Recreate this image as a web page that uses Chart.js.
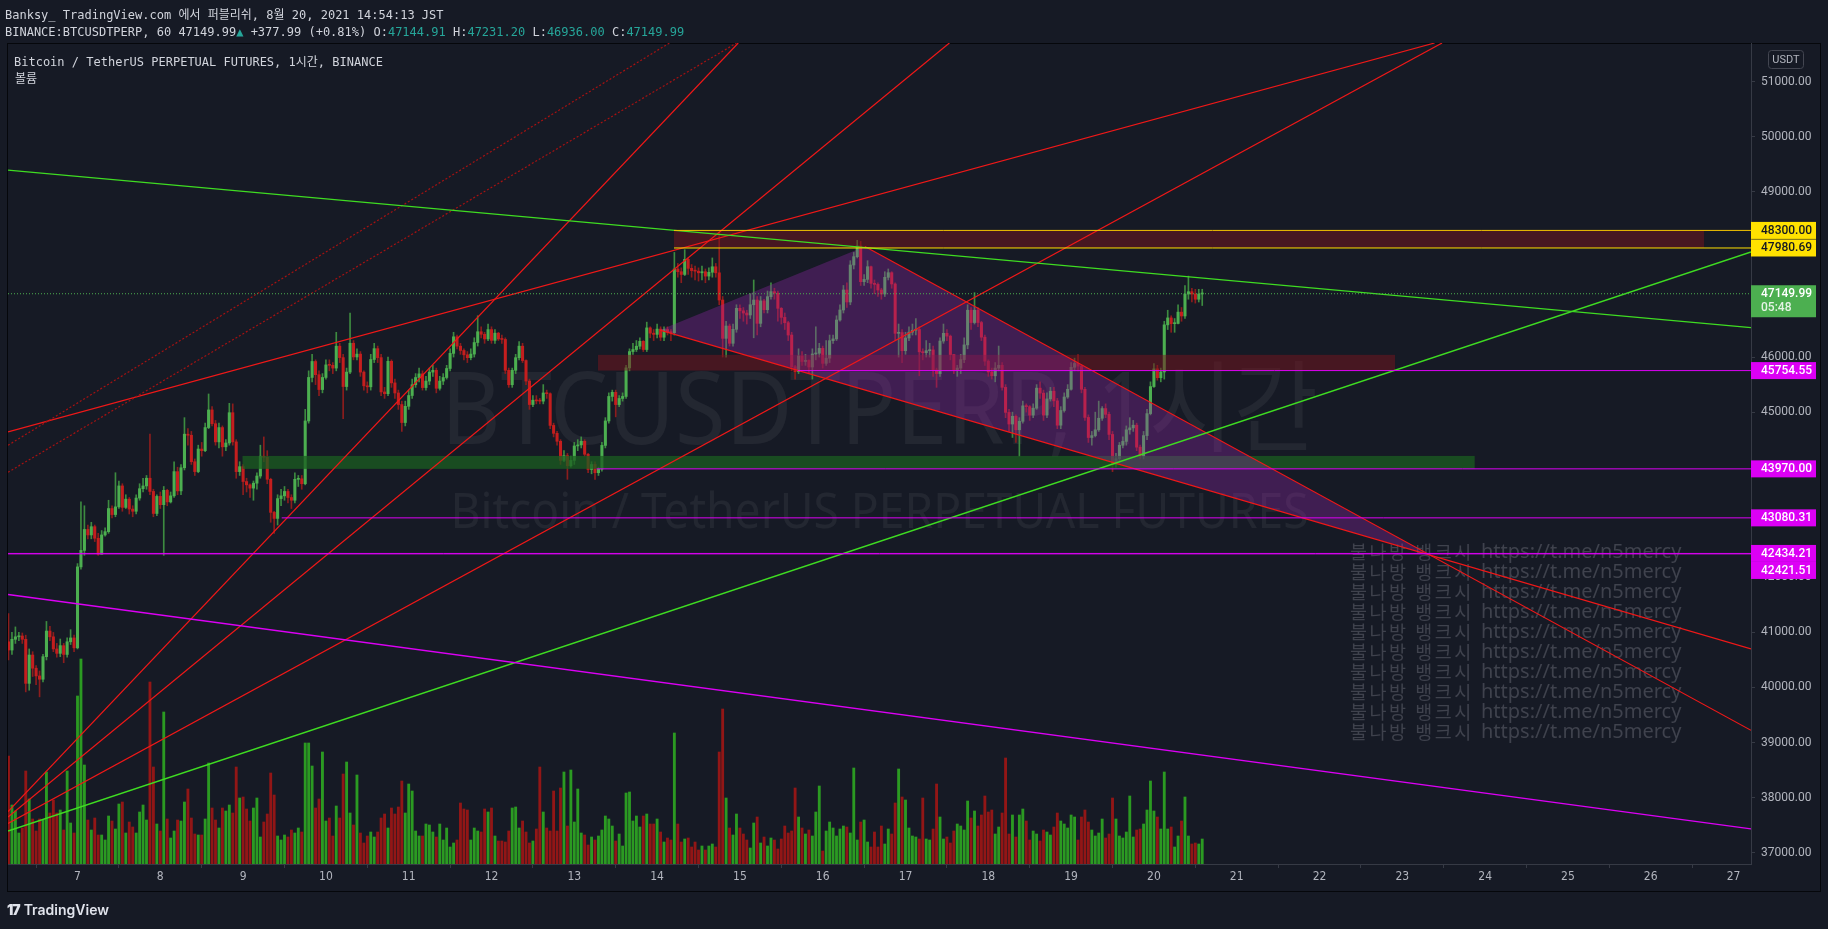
<!DOCTYPE html>
<html lang="ko">
<head>
<meta charset="utf-8">
<title>BTCUSDTPERP, 1시간</title>
<script src="https://cdn.jsdelivr.net/npm/chart.js@4.4.1/dist/chart.umd.min.js"></script>
<style>
  html, body { margin: 0; padding: 0; width: 1828px; height: 929px; overflow: hidden; background: #161a25; }
  #panel { position: absolute; left: 7px; top: 43px; width: 1814px; height: 849px; box-sizing: border-box; border: 1px solid #05070b; }
  #chart { position: absolute; left: 0; top: 0; }
  .txt { position: absolute; white-space: pre; font: 12px "DejaVu Sans Mono", "Noto Sans CJK KR", monospace; color: #d1d4dc; line-height: 14px; }
  .teal { color: #26a69a; }
  #logo { position: absolute; left: 7px; top: 902px; font: 600 14px Inter, Roboto, sans-serif; color: #e0e3eb; line-height: 16px; }
  #logo b { font-weight: 900; letter-spacing: -1px; margin-right: 4px; }
</style>
</head>
<body>
<div id="panel"></div>
<canvas id="chart" width="1828" height="929"></canvas>
<div class="txt" style="left:5px;top:8px">Banksy_ TradingView.com 에서 퍼블리쉬, 8월 20, 2021 14:54:13 JST</div>
<div class="txt" style="left:5px;top:25px">BINANCE:BTCUSDTPERP, 60 47149.99<span class="teal">▲</span> +377.99 (+0.81%) O:<span class="teal">47144.91</span> H:<span class="teal">47231.20</span> L:<span class="teal">46936.00</span> C:<span class="teal">47149.99</span></div>
<div class="txt" style="left:14px;top:55px">Bitcoin / TetherUS PERPETUAL FUTURES, 1시간, BINANCE</div>
<div class="txt" style="left:15px;top:72px">볼륨</div>
<div id="logo"><b>17</b>TradingView</div>
<script>
// x is the day of August 2021, y is the price in USDT
const dayTicks = [7, 8, 9, 10, 11, 12, 13, 14, 15, 16, 17, 18, 19, 20, 21, 22, 23, 24, 25, 26, 27];
const dayTickLabels = ["7", "8", "9", "10", "11", "12", "13", "14", "15", "16", "17", "18", "19", "20", "21", "22", "23", "24", "25", "26", "27"];
const priceTicks = [37000, 38000, 39000, 40000, 41000, 42000, 43000, 44000, 45000, 46000, 47000, 48000, 49000, 50000, 51000];

// hourly candles, first one is 6 Aug 04:00
const firstCandleDay = 6 + 4 / 24;
const firstOpen = 40830;
const closes = [
    40680, 40875, 40920, 40935, 40875, 40075, 40590, 40350, 40210, 40150, 40560, 41025, 40920, 40700, 40620, 40760, 40600, 40830, 40900, 40720,
    42190, 42490, 42870, 42770, 42920, 42710, 42420, 42770, 42830, 43250, 43140, 43280, 43660, 43270, 43420, 43240, 43200, 43440, 43610, 43660, 43800, 43560, 43160, 43470,
    43320, 43580, 43370, 43480, 43920, 43570, 43990, 44600, 44580, 44100, 43920, 44330, 44300, 44720, 45040, 44790, 44460, 44720, 44370, 44440, 44990, 44460, 43920, 44010,
    43740, 43680, 43620, 43710, 43840, 44200, 44180, 43780, 43180, 43070, 43430, 43480, 43560, 43450, 43400, 43780, 43790, 43700, 44840, 45630, 45920, 45680, 45410, 45630,
    45858, 45850, 45800, 46198, 45990, 45465, 45727, 46251, 46002, 46054, 45727, 45478, 45460, 45956, 46153, 45990, 45367, 45335, 45923, 45531, 45348, 45138, 44811, 45106,
    45302, 45498, 45629, 45695, 45446, 45564, 45727, 45760, 45433, 45564, 45629, 45793, 46067, 46368, 46198, 46120, 46041, 45989, 46054, 46264, 46460, 46414, 46329, 46499,
    46303, 46434, 46329, 46320, 45760, 45498, 45760, 45989, 46198, 45937, 45564, 45138, 45217, 45204, 45200, 45348, 45335, 44759, 44615, 44471, 44124, 44209, 44026, 44124,
    44386, 44405, 44471, 44235, 43960, 44050, 43900, 43966, 44396, 44840, 45285, 45360, 45137, 45248, 45285, 45804, 46100, 46137, 46197, 46286, 46137, 46530, 46434, 46412,
    46508, 46360, 46500, 46456, 46443, 47599, 47550, 47500, 47775, 47611, 47570, 47560, 47530, 47550, 47470, 47540, 47640, 47530, 47036, 46340, 46564, 46250, 46504, 46885,
    46840, 46800, 46764, 46950, 47036, 46612, 47020, 46860, 47097, 47188, 47160, 46885, 46721, 46624, 46400, 45825, 45735, 46020, 45920, 45940, 45820, 46056, 46070, 46158,
    45886, 45980, 46298, 46330, 46673, 46855, 47218, 47000, 47672, 47823, 48017, 47369, 47411, 47641, 47338, 47320, 47218, 47145, 47448, 47532, 47327, 46431, 46445, 46116,
    46347, 46452, 46487, 46500, 46095, 46080, 46116, 46130, 45765, 45700, 46291, 46431, 46380, 46046, 45765, 45800, 45954, 46221, 46851, 46627, 46851, 46627, 46361, 45926,
    45730, 45660, 45800, 45850, 45450, 44995, 44784, 44925, 44680, 44834, 45114, 45100, 44946, 45072, 45436, 45345, 44946, 45240, 45380, 45205, 44763, 45030, 45275, 45415,
    45814, 45884, 45835, 45415, 44904, 44539, 44574, 44679, 44889, 45065, 44960, 44595, 44049, 44154, 44399, 44469, 44679, 44714, 44763, 44364, 44203, 44574, 44973, 45464,
    45786, 45625, 45730, 46585, 46711, 46606, 46610, 46816, 46746, 47145, 47187, 47145, 47050, 47144.91, 47149.99
];
const highs = [
    41340, 41000, 41100, 41000, 40990, 40950, 40700, 40650, 40400, 40300, 40600, 41200, 41110, 41000, 40800, 40880, 40800, 40900, 41050, 40950,
    42250, 43370, 43300, 42950, 43000, 42950, 42800, 42850, 42900, 43400, 43300, 43900, 43750, 43700, 43500, 43450, 43300, 43500, 43700, 43800, 43850, 44600, 43600, 43500,
    43550, 43650, 43600, 43550, 44100, 44000, 44050, 44900, 44700, 44650, 44150, 44400, 44450, 44800, 45330, 45100, 44850, 44800, 44750, 44500, 45160, 45150, 44500, 44100,
    44050, 43800, 43700, 43750, 43900, 44400, 44550, 44300, 43800, 43200, 43500, 43600, 43650, 43600, 43500, 43900, 43850, 43850, 45050, 45750, 46050, 45950, 45750, 45700,
    45950, 45950, 45900, 46450, 46250, 46050, 45800, 46800, 46300, 46150, 46100, 45750, 45550, 46050, 46250, 46200, 46050, 45450, 46000, 45950, 45600, 45400, 45200, 45200,
    45400, 45600, 45700, 45800, 45750, 45650, 45800, 45850, 45800, 45650, 45700, 45850, 46150, 46450, 46400, 46250, 46150, 46100, 46150, 46350, 46750, 46550, 46450, 46600,
    46550, 46500, 46450, 46400, 46350, 45800, 45800, 46050, 46280, 46250, 45950, 45600, 45300, 45300, 45250, 45500, 45400, 45350, 44800, 44650, 44500, 44300, 44250, 44200,
    44450, 44500, 44550, 44500, 44250, 44100, 44100, 44000, 44450, 44900, 45350, 45400, 45400, 45300, 45350, 45850, 46150, 46250, 46300, 46350, 46300, 46634, 46550, 46500,
    46600, 46550, 46550, 46550, 46500, 47900, 47700, 47620, 47950, 47800, 47680, 47650, 47620, 47650, 47600, 47620, 47800, 47700, 48250, 47100, 46650, 46600, 46600, 46950,
    46950, 46900, 46850, 47150, 47400, 47100, 47100, 47050, 47200, 47350, 47250, 47200, 46900, 46800, 46650, 46450, 45850, 46150, 46100, 46050, 45950, 46150, 46550, 46250,
    46200, 46300, 46400, 46400, 46750, 46950, 47300, 47350, 47750, 47900, 48120, 48100, 47500, 47750, 47650, 47400, 47350, 47250, 47550, 47600, 47550, 47350, 46600, 46500,
    46450, 46550, 46600, 46700, 46550, 46150, 46300, 46250, 46200, 45800, 46350, 46600, 46500, 46400, 46050, 45850, 46050, 46350, 46950, 46900, 47170, 46900, 46650, 46400,
    45950, 45800, 45900, 46200, 45900, 45500, 45050, 45000, 44950, 44900, 45200, 45150, 45120, 45150, 45500, 45550, 45400, 45350, 45450, 45450, 45250, 45100, 45350, 45500,
    45900, 45980, 46045, 45850, 45450, 44950, 44650, 45000, 45200, 45100, 45150, 45000, 44650, 44250, 44450, 44550, 44750, 44900, 44850, 44800, 44400, 44650, 45050, 45550,
    45880, 45850, 45800, 46650, 46850, 46750, 46700, 46950, 46900, 47300, 47470, 47250, 47230, 47230, 47231.2
];
const lows = [
    40500, 40600, 40800, 40850, 40800, 39920, 39950, 40200, 40050, 39830, 40100, 40500, 40850, 40650, 40550, 40560, 40450, 40550, 40780, 40650,
    40700, 42150, 42400, 42700, 42700, 42650, 42400, 42420, 42750, 42800, 43080, 43100, 43250, 43200, 43250, 43150, 43100, 43150, 43400, 43550, 43600, 43500, 43100, 43120,
    43250, 42400, 43300, 43350, 43450, 43500, 43500, 43950, 44400, 44050, 43850, 43900, 44200, 44280, 44700, 44750, 44400, 44350, 44200, 44300, 44400, 44400, 43800, 43850,
    43500, 43550, 43450, 43400, 43600, 43800, 44100, 43700, 43000, 42800, 42950, 43300, 43400, 43350, 43250, 43350, 43650, 43600, 43680, 44800, 45550, 45500, 45300, 45350,
    45600, 45750, 45700, 45750, 45900, 44880, 45400, 45700, 45950, 45950, 45650, 45400, 45350, 45400, 45900, 45900, 45300, 45250, 45300, 45450, 45250, 45050, 44650, 44750,
    45050, 45250, 45450, 45550, 45400, 45400, 45500, 45650, 45350, 45400, 45500, 45600, 45750, 46000, 46150, 46050, 45950, 45900, 45950, 46000, 46200, 46350, 46250, 46300,
    46250, 46250, 46300, 46250, 45700, 45450, 45450, 45700, 45950, 45900, 45500, 45050, 45100, 45150, 45150, 45150, 45250, 44700, 44550, 44400, 44050, 44100, 43780, 44000,
    44050, 44300, 44350, 44200, 43900, 43880, 43780, 43850, 43930, 44350, 44800, 45200, 44914, 45100, 45200, 45250, 45750, 46050, 46100, 46150, 46100, 46100, 46350, 46300,
    46350, 46300, 46300, 46400, 46300, 46400, 47450, 47350, 47480, 47500, 47450, 47400, 47380, 47400, 47350, 47400, 47450, 47450, 46950, 46000, 46000, 46200, 46200, 46450,
    46700, 46650, 46600, 46700, 46350, 46400, 46550, 46800, 46800, 47050, 47050, 46650, 46600, 46500, 46300, 45750, 45600, 45700, 45850, 45850, 45700, 45600, 45950, 46000,
    45800, 45850, 45900, 46250, 46300, 46650, 46800, 46900, 46950, 47600, 47800, 47300, 47300, 47350, 47250, 47150, 47100, 47050, 47100, 47400, 47250, 46300, 46000, 45900,
    46050, 46300, 46400, 46400, 45660, 45950, 46000, 46000, 45650, 45450, 45650, 46250, 46300, 45950, 45700, 45650, 45700, 45900, 46150, 46500, 46600, 46550, 46300, 45850,
    45650, 45600, 45550, 45750, 45400, 44900, 44650, 44540, 44450, 44200, 44800, 45000, 44850, 44900, 45050, 45250, 44850, 44900, 45200, 45100, 44700, 44700, 45000, 45250,
    45400, 45750, 45750, 45350, 44850, 44450, 44400, 44550, 44650, 44850, 44900, 44500, 43920, 44000, 44100, 44350, 44400, 44600, 44650, 44300, 44150, 44150, 44500, 44950,
    45450, 45580, 45550, 45600, 46500, 46450, 46450, 46600, 46650, 46700, 47050, 47000, 46980, 47000, 46936
];
// volume, hundreds of BTC
const volumes = [
    108, 59, 53, 31, 36, 93, 65, 45, 33, 45, 44, 92, 51, 64, 51, 54, 34, 93, 41, 31,
    168, 205, 99, 44, 34, 46, 29, 29, 24, 48, 43, 35, 60, 62, 31, 42, 37, 31, 52, 59, 44, 182, 97, 40,
    33, 152, 45, 26, 33, 44, 43, 62, 75, 46, 30, 29, 29, 45, 101, 56, 44, 36, 56, 53, 59, 51, 97, 66,
    67, 55, 43, 56, 66, 27, 42, 50, 91, 69, 28, 24, 29, 27, 34, 31, 36, 32, 121, 121, 98, 56, 65, 112,
    43, 46, 28, 58, 46, 90, 102, 51, 39, 89, 31, 21, 28, 32, 27, 32, 46, 50, 36, 56, 50, 57, 83, 51,
    80, 73, 33, 28, 28, 40, 39, 32, 27, 40, 24, 36, 17, 21, 24, 61, 55, 54, 24, 36, 33, 32, 55, 52,
    56, 28, 23, 23, 22, 33, 56, 57, 36, 43, 32, 21, 23, 35, 97, 52, 36, 33, 73, 33, 76, 92, 38, 94,
    42, 75, 31, 29, 19, 27, 24, 28, 34, 48, 45, 38, 23, 30, 18, 71, 72, 43, 48, 37, 48, 50, 40, 40,
    45, 32, 22, 26, 24, 131, 40, 22, 25, 26, 17, 22, 14, 18, 14, 18, 20, 17, 112, 155, 66, 36, 29, 50,
    36, 30, 24, 16, 41, 47, 21, 27, 18, 26, 24, 15, 25, 38, 31, 33, 76, 47, 36, 30, 34, 28, 52, 78,
    13, 33, 42, 36, 28, 35, 38, 37, 31, 96, 24, 42, 44, 22, 17, 32, 17, 38, 20, 35, 30, 61, 95, 67,
    64, 36, 28, 27, 25, 66, 25, 24, 35, 80, 47, 25, 27, 21, 33, 40, 38, 34, 63, 46, 53, 38, 49, 68,
    52, 54, 30, 37, 51, 106, 30, 49, 27, 49, 55, 43, 24, 33, 30, 23, 34, 32, 29, 37, 51, 43, 40, 36,
    49, 47, 24, 47, 54, 42, 34, 28, 31, 45, 26, 30, 66, 45, 28, 26, 32, 68, 27, 34, 35, 40, 54, 83,
    53, 47, 35, 92, 35, 37, 17, 28, 43, 67, 28, 20, 21, 20, 25
];

// drawings: [day1, price1, day2, price2]
const redLines = [
    [6.161, 44641, 23.39, 51703],
    [6.161, 37746, 14.98, 51703],
    [6.161, 37650, 17.53, 51703],
    [6.161, 37533, 23.48, 51703],
    [14.035, 46490, 27.211, 40702],
    [16.51, 48007, 27.211, 39222]
];
const dottedRedLines = [
    [6.161, 44399, 14.15, 51703],
    [6.161, 43909, 14.96, 51703]
];
const greenLines = [
    [6.161, 49395, 27.211, 46535],
    [6.161, 37393, 27.211, 47908]
];
const magentaLines = [
    [6.161, 41690, 27.211, 37432]
];
// [dayFrom, dayTo, priceTop, priceBottom]
const boxes = [
    [14.204, 26.644, 48300, 47980.69],
    [13.286, 22.912, 46040, 45754.55],
    [8.993, 23.874, 44205, 43970]
];
const triangle = [[14.035, 46490], [16.51, 48007], [23.334, 42405]];
const levelPrices = [48300, 47980.69, 45754.55, 43970, 43080.31, 42434.21, 42421.51];
const levelStarts = [14.204, 14.204, 15.7, 13.27, 9.466, 6.161, 6.161];
const lastPrice = 47149.99;
const countdown = "05:48";

const watermarkTitle = "BTCUSDTPERP, 1시간";
const watermarkSub = "Bitcoin / TetherUS PERPETUAL FUTURES";
const promoName = "불나방 뱅크시";
const promoUrl = "https://t.me/n5mercy";

// ---- styles ----
const X_MIN = 6.1606, X_MAX = 27.211, Y_MIN = 36795, Y_MAX = 51703, VOL_MAX = 821;
const UP = "#4caf50", DOWN = "#c41e1e";
const UP_WICK = "#3d8b40", DOWN_WICK = "#8c1d1d";
const VOL_UP = "#2b9a22", VOL_DOWN = "#921616";
const RED = "#f01818", GREEN = "#3fdc22", MAGENTA = "#dc00f5", YELLOW = "#ffe100";
const levelColors = ["#f5c400", YELLOW, MAGENTA, MAGENTA, MAGENTA, MAGENTA, MAGENTA];
const levelWidths = [1, 1, 1, 1, 1, 1, 0.6];
const boxColors = ["rgba(120,20,30,0.5)", "rgba(120,20,30,0.5)", "rgba(27,94,32,0.75)"];
const AXIS = "#363a45", TICK_TEXT = "#b2b5be";

const opens = closes.map((c, i) => i === 0 ? firstOpen : closes[i - 1]);
const times = closes.map((c, i) => firstCandleDay + i / 24);
const isUp = closes.map((c, i) => c >= opens[i]);

function segment(l, color, width, dash) {
    return {
        type: "line",
        data: [{ x: l[0], y: l[1] }, { x: l[2], y: l[3] }],
        borderColor: color,
        borderWidth: width,
        borderDash: dash || [],
        pointRadius: 0,
        tension: 0,
        order: 2
    };
}

const datasets = [
    {
        type: "bar",
        data: volumes.map((v, i) => ({ x: times[i], y: v })),
        yAxisID: "yVol",
        backgroundColor: isUp.map(u => u ? VOL_UP : VOL_DOWN),
        barThickness: 2.2,
        grouped: false,
        order: 10
    },
    {
        type: "bar",
        data: closes.map((c, i) => ({ x: times[i], y: [Math.min(lows[i], opens[i], c), Math.max(highs[i], opens[i], c)] })),
        backgroundColor: isUp.map(u => u ? UP_WICK : DOWN_WICK),
        barThickness: 1,
        grouped: false,
        order: 9
    },
    {
        type: "bar",
        data: closes.map((c, i) => ({ x: times[i], y: [opens[i], c] })),
        backgroundColor: isUp.map(u => u ? UP : DOWN),
        barThickness: 2.4,
        minBarLength: 1,
        grouped: false,
        order: 8
    },
    segment([X_MIN, lastPrice, X_MAX, lastPrice], UP, 1, [1, 2])
];
const BODY_INDEX = 2;
levelPrices.forEach((p, i) => datasets.push(segment([levelStarts[i], p, X_MAX, p], levelColors[i], levelWidths[i])));
magentaLines.forEach(l => datasets.push(segment(l, MAGENTA, 1.4)));
greenLines.forEach(l => datasets.push(segment(l, GREEN, 1.4)));
dottedRedLines.forEach(l => datasets.push(segment(l, "#a51212", 1.2, [2, 2])));
redLines.forEach(l => datasets.push(segment(l, RED, 1.2)));

const drawings = {
    id: "drawings",
    beforeDatasetsDraw(chart) {
        const { ctx, chartArea: a } = chart;
        ctx.save();
        ctx.beginPath();
        ctx.rect(a.left, a.top, a.right - a.left, a.bottom - a.top);
        ctx.clip();
        const cx = (a.left + a.right) / 2, cy = (a.top + a.bottom) / 2;
        ctx.fillStyle = "rgba(255,255,255,0.06)";
        ctx.textAlign = "center";
        ctx.textBaseline = "alphabetic";
        ctx.font = '100px "Noto Sans", "Noto Sans CJK KR", sans-serif';
        ctx.fillText(watermarkTitle, cx, cy - 10, 877);
        ctx.font = '49px "Noto Sans", sans-serif';
        ctx.fillText(watermarkSub, cx, cy + 74, 858);
        // promo text block, ten lines
        ctx.fillStyle = "#3f424d";
        ctx.textAlign = "left";
        for (let i = 0; i < 10; i++) {
            ctx.font = '18.5px "Noto Sans CJK KR", sans-serif';
            ctx.letterSpacing = "2.5px";
            ctx.fillText(promoName, 1350, 559 + 20 * i);
            ctx.letterSpacing = "0px";
            ctx.font = '20px "Noto Sans", sans-serif';
            ctx.fillText(promoUrl, 1481, 558 + 20 * i);
        }
        ctx.restore();
    },
    afterDatasetDraw(chart, args) {
        if (args.index !== BODY_INDEX) return;
        const { ctx, chartArea: a, scales: { x, y } } = chart;
        ctx.save();
        ctx.beginPath();
        ctx.rect(a.left, a.top, a.right - a.left, a.bottom - a.top);
        ctx.clip();
        boxes.forEach((b, i) => {
            const x1 = x.getPixelForValue(b[0]), x2 = x.getPixelForValue(b[1]);
            const y1 = y.getPixelForValue(b[2]), y2 = y.getPixelForValue(b[3]);
            ctx.fillStyle = boxColors[i];
            ctx.fillRect(x1, y1, x2 - x1, y2 - y1);
        });
        ctx.fillStyle = "rgba(156,39,176,0.32)";
        ctx.beginPath();
        triangle.forEach((p, i) => {
            const px = x.getPixelForValue(p[0]), py = y.getPixelForValue(p[1]);
            if (i === 0) ctx.moveTo(px, py); else ctx.lineTo(px, py);
        });
        ctx.closePath();
        ctx.fill();
        ctx.restore();
    },
    afterDraw(chart) {
        const { ctx, chartArea: a, scales: { y } } = chart;
        const left = y.left, w = 65, h = 17;
        const items = levelPrices.map((p, i) => ({
            y: y.getPixelForValue(p), lines: [p.toFixed(2)],
            bg: i < 2 ? YELLOW : MAGENTA, fg: i < 2 ? "#131722" : "#ffffff"
        }));
        items.push({ y: y.getPixelForValue(lastPrice), lines: [lastPrice.toFixed(2), countdown], bg: UP, fg: "#ffffff" });
        items.sort((p, q) => p.y - q.y);
        let prevBottom = -Infinity;
        items.forEach(it => {
            const bh = it.lines.length === 1 ? h : 32;
            const top = Math.max(it.y - h / 2, prevBottom);
            prevBottom = top + bh;
            ctx.fillStyle = it.bg;
            ctx.fillRect(left, top, w, bh);
            ctx.fillStyle = it.fg;
            ctx.font = '500 12px Roboto, sans-serif';
            ctx.textAlign = "left";
            ctx.textBaseline = "middle";
            ctx.fillText(it.lines[0], left + 10, top + h / 2 + 0.5);
            if (it.lines[1]) {
                ctx.fillStyle = "rgba(255,255,255,0.85)";
                ctx.fillText(it.lines[1], left + 10, top + h / 2 + 14);
            }
        });
        // currency box
        ctx.strokeStyle = "#434651";
        ctx.lineWidth = 1;
        ctx.beginPath();
        ctx.roundRect(left + 17.5, a.top + 7.5, 35, 18, 3);
        ctx.stroke();
        ctx.fillStyle = TICK_TEXT;
        ctx.font = '11px Roboto, sans-serif';
        ctx.textAlign = "center";
        ctx.fillText("USDT", left + 35, a.top + 17);
    }
};

new Chart(document.getElementById("chart"), {
    type: "bar",
    data: { datasets: datasets },
    options: {
        responsive: false,
        animation: false,
        devicePixelRatio: 1,
        events: [],
        layout: { padding: { left: 8, top: 43, right: 8, bottom: 37 } },
        plugins: { legend: { display: false }, tooltip: { enabled: false } },
        scales: {
            x: {
                type: "linear",
                min: X_MIN,
                max: X_MAX,
                offset: false,
                afterFit: s => { s.height = 28; },
                afterBuildTicks: s => { s.ticks = dayTicks.map(v => ({ value: v })); },
                ticks: {
                    autoSkip: false,
                    maxRotation: 0,
                    color: TICK_TEXT,
                    padding: 2,
                    font: { family: '"DejaVu Sans Condensed", "DejaVu Sans", sans-serif', size: 12 },
                    callback: v => dayTickLabels[dayTicks.indexOf(v)]
                },
                grid: { drawOnChartArea: false, tickLength: 4, color: AXIS },
                border: { color: AXIS }
            },
            y: {
                type: "linear",
                position: "right",
                min: Y_MIN,
                max: Y_MAX,
                afterFit: s => { s.width = 69; },
                afterBuildTicks: s => { s.ticks = priceTicks.map(v => ({ value: v })); },
                ticks: {
                    color: TICK_TEXT,
                    padding: 6,
                    font: { family: "Roboto, sans-serif", size: 12 },
                    callback: v => v.toFixed(2)
                },
                grid: { drawOnChartArea: false, tickLength: 4, color: AXIS },
                border: { color: AXIS }
            },
            yVol: { type: "linear", display: false, min: 0, max: VOL_MAX }
        }
    },
    plugins: [drawings]
});
</script>
</body>
</html>
